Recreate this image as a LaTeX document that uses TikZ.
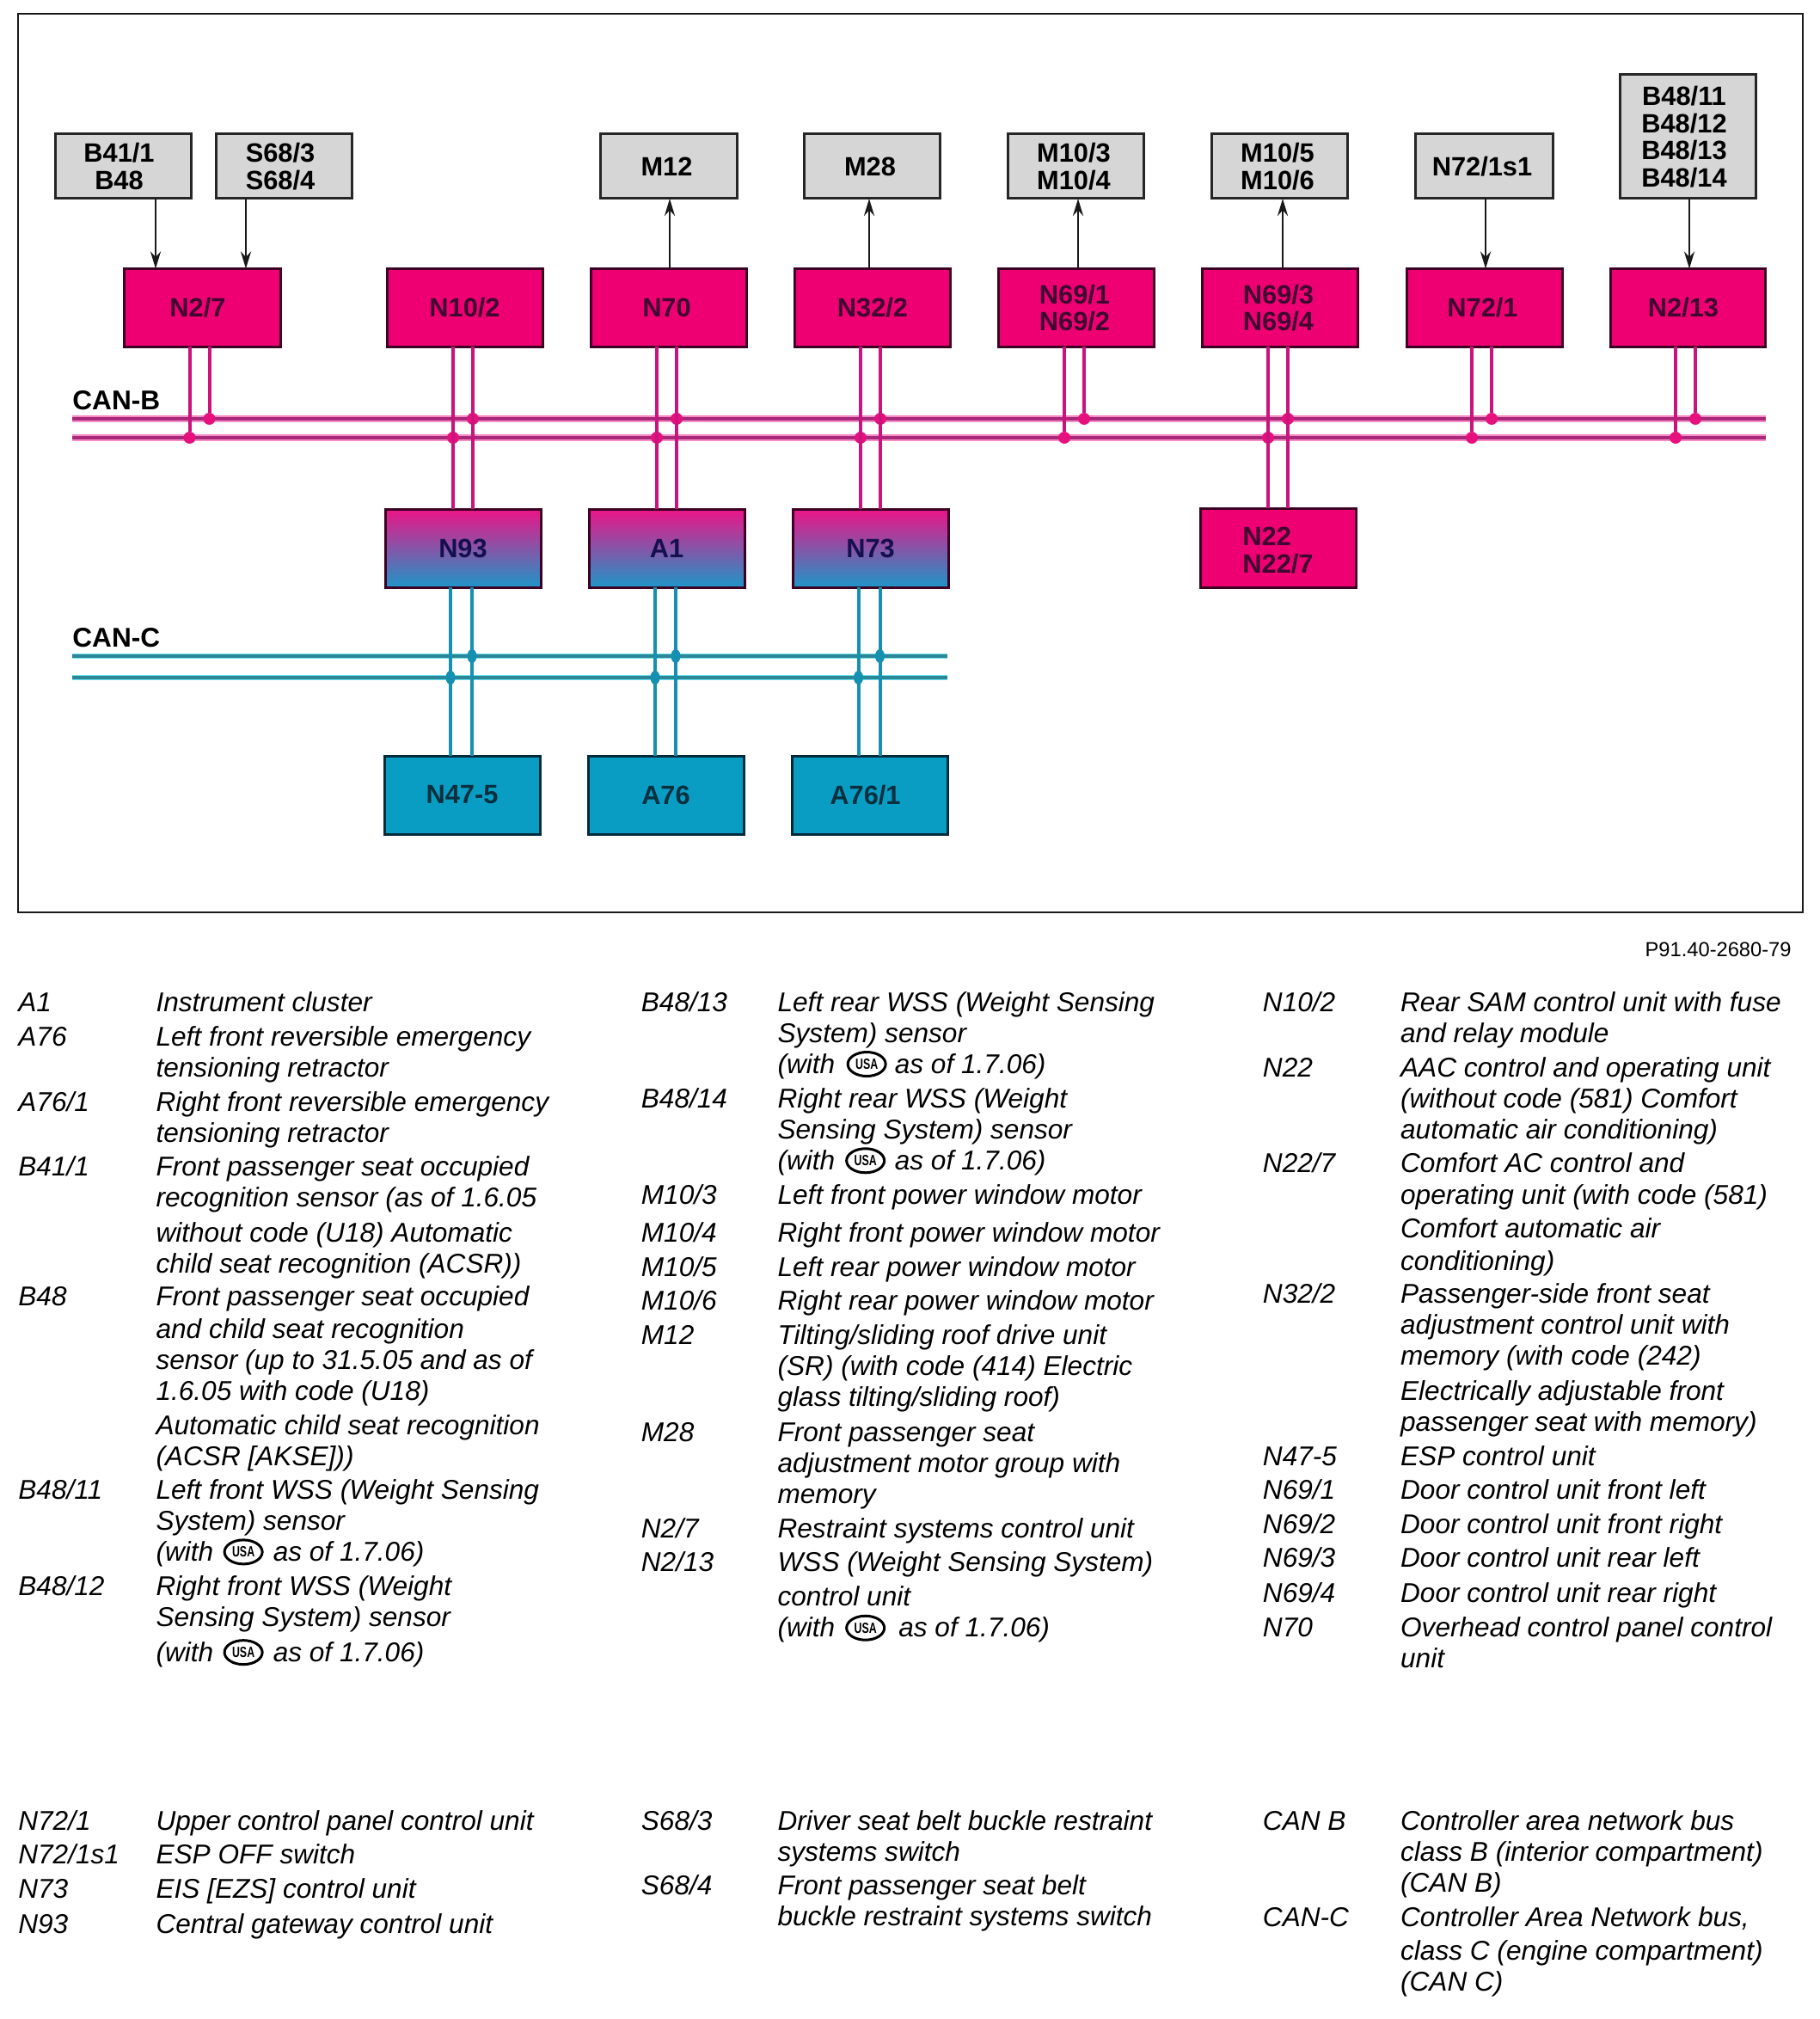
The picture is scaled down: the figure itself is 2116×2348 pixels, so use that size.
\documentclass[tikz,border=0pt]{standalone}
\usepackage{fontspec}
\usepackage{graphicx}
\setmainfont{Liberation Sans}
\usetikzlibrary{arrows.meta,shapes.geometric}
\definecolor{pinkfill}{HTML}{EE0073}
\definecolor{pinkdark}{HTML}{3C0022}
\definecolor{pinktext}{HTML}{3E0630}
\definecolor{pinkwire}{HTML}{C8147C}
\definecolor{pinkdot}{HTML}{E6107E}
\definecolor{pinkbus}{HTML}{A8287A}
\definecolor{pinkhalo}{HTML}{F88CC4}
\definecolor{tealfill}{HTML}{0A9DC4}
\definecolor{tealdark}{HTML}{002A3A}
\definecolor{tealtext}{HTML}{06303F}
\definecolor{tealwire}{HTML}{1590B0}
\definecolor{tealbus}{HTML}{2E8595}
\definecolor{tealhalo}{HTML}{66E4F4}
\definecolor{grayfill}{HTML}{D6D6D6}
\definecolor{gradtop}{HTML}{EC1487}
\definecolor{gradbot}{HTML}{1E96C8}
\definecolor{gradtext}{HTML}{150F4E}
\newcounter{lg}
\tikzset{
  x=.5pt,y=-.5pt,
  sz/.style 2 args={minimum width=#1*.5pt,minimum height=#2*.5pt},
  boxbase/.style={rectangle,anchor=north west,inner sep=0pt,outer sep=0pt,align=center,line width=1.5pt,
    font=\fontsize{15.4}{15.8}\selectfont\bfseries},
  graybox/.style={boxbase,draw=black!85,fill=grayfill,text=black},
  pinkbox/.style={boxbase,draw=pinkdark,fill=pinkfill,text=pinktext},
  gradbox/.style={boxbase,draw=pinkdark,top color=gradtop,bottom color=gradbot,text=gradtext},
  tealbox/.style={boxbase,draw=tealdark,fill=tealfill,text=tealtext},
  arr/.style={draw=black!90,line width=1.4pt,-{Stealth[length=10pt,width=6pt]}},
  pwire/.style={draw=pinkwire,line width=2pt},
  twire/.style={draw=tealwire,line width=2pt},
  pdot/.style={circle,fill=pinkdot,inner sep=0pt,minimum size=7pt},
  tdot/.style={ellipse,fill=tealwire,inner sep=0pt,minimum width=5.5pt,minimum height=8pt},
  buslabel/.style={anchor=base west,inner sep=0pt,font=\fontsize{15.8}{16}\selectfont\bfseries},
  legend/.style={anchor=base west,inner sep=0pt,font=\fontsize{15.8}{18}\selectfont\itshape},
  usabadge/.style={ellipse,draw=black,line width=1.5pt,inner sep=0pt,minimum width=22pt,minimum height=14pt,
    font=\fontsize{8.6}{9}\selectfont\bfseries},
}
\newcommand{\Ln}[3]{\stepcounter{lg}\node[legend] (lg\arabic{lg}) at (#1*1.497,#2*1.497+11.5) {#3};}
\newcommand{\Usa}[2]{\stepcounter{lg}\node[usabadge] (lg\arabic{lg}) at (#1*1.498,#2*1.497+1) {\scalebox{.72}[1]{USA}};}
\begin{document}
\begin{tikzpicture}
\useasboundingbox (0,0) rectangle (2116,2348);
\node[rectangle,draw=black!90,line width=1pt,anchor=north west,inner sep=0pt,sz={2076}{1044}] (frame) at (20,15.5) {};

% grey boxes
\node[graybox,sz={158}{75}] (B41) at (64,156) {B41/1\kern4.5pt\\B48\kern4.5pt};
\node[graybox,sz={158}{75}] (S68) at (251,156) {S68/3\kern4pt\\S68/4\kern4pt};
\node[graybox,sz={159}{75}] (M12) at (698,156) {M12\kern2pt};
\node[graybox,sz={158}{75}] (M28) at (935,156) {M28\kern2pt};
\node[graybox,sz={158}{75}] (M103) at (1172,156) {M10/3\kern2pt\\M10/4\kern2pt};
\node[graybox,sz={158}{75}] (M105) at (1409,156) {M10/5\kern2pt\\M10/6\kern2pt};
\node[graybox,sz={160}{75}] (N72s) at (1646,156) {N72/1s1\kern2pt};
\node[graybox,sz={158}{144}] (B48) at (1884,87) {B48/11\kern4pt\\B48/12\kern4pt\\B48/13\kern4pt\\B48/14\kern4pt};

% pink boxes
\node[pinkbox,sz={182}{91}] (N27) at (144,312.5) {N2/7\kern5pt};
\node[pinkbox,sz={181}{91}] (N102) at (450,312.5) {N10/2};
\node[pinkbox,sz={181}{91}] (N70) at (687,312.5) {N70\kern2pt};
\node[pinkbox,sz={181}{91}] (N322) at (924.5,312.5) {N32/2};
\node[pinkbox,sz={181}{91}] (N691) at (1161.5,312.5) {N69/1\kern2pt\\N69/2\kern2pt};
\node[pinkbox,sz={181}{91}] (N693) at (1398.5,312.5) {N69/3\kern2pt\\N69/4\kern2pt};
\node[pinkbox,sz={181}{91}] (N721) at (1636,312.5) {N72/1\kern2pt};
\node[pinkbox,sz={180}{91}] (N213) at (1873,312.5) {N2/13\kern5pt};

% middle boxes
\node[gradbox,sz={181}{91}] (N93) at (448,592) {N93};
\node[gradbox,sz={181}{91}] (A1) at (685,592) {A1};
\node[gradbox,sz={181}{91}] (N73) at (922,592) {N73};
\node[pinkbox,sz={181}{92},align=left] (N22) at (1396,591) {\rule{0pt}{14pt}N22\\N22/7};

% lower boxes
\node[tealbox,sz={181}{91}] (N475) at (447,879) {N47-5};
\node[tealbox,sz={181}{91}] (A76) at (684,879) {A76};
\node[tealbox,sz={181}{91}] (A761) at (921,879) {A76/1\kern5pt};

% bus labels
\node[buslabel] (canb) at (84,477) {CAN-B};
\node[buslabel] (canc) at (84,752) {CAN-C};

% bus ends
\coordinate (busBw) at (84,0); \coordinate (busBe) at (2054,0);
\coordinate (busCw) at (84,0); \coordinate (busCe) at (1102,0);
\coordinate (yB1) at (0,487); \coordinate (yB2) at (0,509);
\coordinate (yC1) at (0,763); \coordinate (yC2) at (0,788);
\foreach \yy in {yB1,yB2}{
  \draw[pinkhalo,line width=3.6pt] (busBw |- \yy) -- (busBe |- \yy);
  \draw[pinkbus,line width=2pt] (busBw |- \yy) -- (busBe |- \yy);
}
\foreach \yy in {yC1,yC2}{
  \draw[tealhalo,line width=3.4pt] (busCw |- \yy) -- (busCe |- \yy);
  \draw[tealbus,line width=1.8pt] (busCw |- \yy) -- (busCe |- \yy);
}

% arrows
\coordinate (a1) at (181,0); \coordinate (a2) at (286,0);
\coordinate (a3) at (779,0); \coordinate (a4) at (1011,0);
\coordinate (a5) at (1254,0); \coordinate (a6) at (1492,0);
\coordinate (a7) at (1728,0); \coordinate (a8) at (1965,0);
\draw[arr] (a1 |- B41.south) -- (a1 |- N27.north);
\draw[arr] (a2 |- S68.south) -- (a2 |- N27.north);
\draw[arr] (a3 |- N70.north) -- (a3 |- M12.south);
\draw[arr] (a4 |- N322.north) -- (a4 |- M28.south);
\draw[arr] (a5 |- N691.north) -- (a5 |- M103.south);
\draw[arr] (a6 |- N693.north) -- (a6 |- M105.south);
\draw[arr] (a7 |- N72s.south) -- (a7 |- N721.north);
\draw[arr] (a8 |- B48.south) -- (a8 |- N213.north);

% CAN-B stubs ending at the bus
\foreach \t/\xa/\xb in {N27/220.5/243.5,N691/1238/1261,N721/1712/1735,N213/1949/1972}{
  \node[pdot] (L\t) at (\xa,509) {};
  \node[pdot] (R\t) at (\xb,487) {};
  \draw[pwire] (L\t |- \t.south) -- (L\t);
  \draw[pwire] (R\t |- \t.south) -- (R\t);
}
% CAN-B links passing on to a lower box
\foreach \t/\b/\xa/\xb in {N102/N93/527/550,N70/A1/764/787,N322/N73/1001/1024,N693/N22/1475/1498}{
  \node[pdot] (L\t) at (\xa,509) {};
  \node[pdot] (R\t) at (\xb,487) {};
  \draw[pwire] (L\t |- \t.south) -- (L\t |- \b.north);
  \draw[pwire] (R\t |- \t.south) -- (R\t |- \b.north);
}
% CAN-C links
\foreach \t/\b/\xa/\xb in {N93/N475/524/549,A1/A76/762/786,N73/A761/998.5/1023.5}{
  \node[tdot] (L\t) at (\xa,788) {};
  \node[tdot] (R\t) at (\xb,763) {};
  \draw[twire] (L\t |- \t.south) -- (L\t |- \b.north);
  \draw[twire] (R\t |- \t.south) -- (R\t |- \b.north);
}

% figure number
\node[anchor=base east,inner sep=0pt,font=\fontsize{11.85}{14}\selectfont] (fignum) at (2084,1112) {P91.40-2680-79};

% legend column 1
\Ln{14}{778}{A1}\Ln{121}{778}{Instrument cluster}
\Ln{14}{805}{A76}\Ln{121}{805}{Left front reversible emergency}
\Ln{121}{829}{tensioning retractor}
\Ln{14}{856}{A76/1}\Ln{121}{856}{Right front reversible emergency}
\Ln{121}{880}{tensioning retractor}
\Ln{14}{906}{B41/1}\Ln{121}{906}{Front passenger seat occupied}
\Ln{121}{930}{recognition sensor (as of 1.6.05}
\Ln{121}{957}{without code (U18) Automatic}
\Ln{121}{981}{child seat recognition (ACSR))}
\Ln{14}{1007}{B48}\Ln{121}{1007}{Front passenger seat occupied}
\Ln{121}{1032}{and child seat recognition}
\Ln{121}{1056}{sensor (up to 31.5.05 and as of}
\Ln{121}{1080}{1.6.05 with code (U18)}
\Ln{121}{1107}{Automatic child seat recognition}
\Ln{121}{1131}{(ACSR [AKSE]))}
\Ln{14}{1157}{B48/11}\Ln{121}{1157}{Left front WSS (Weight Sensing}
\Ln{121}{1181}{System) sensor}
\Ln{121}{1205}{(with}\Usa{189}{1205}\Ln{212}{1205}{as of 1.7.06)}
\Ln{14}{1232}{B48/12}\Ln{121}{1232}{Right front WSS (Weight}
\Ln{121}{1256}{Sensing System) sensor}
\Ln{121}{1283}{(with}\Usa{189}{1283}\Ln{212}{1283}{as of 1.7.06)}

% legend column 2
\Ln{498}{778}{B48/13}\Ln{604}{778}{Left rear WSS (Weight Sensing}
\Ln{604}{802}{System) sensor}
\Ln{604}{826}{(with}\Usa{673}{826}\Ln{695}{826}{as of 1.7.06)}
\Ln{498}{853}{B48/14}\Ln{604}{853}{Right rear WSS (Weight}
\Ln{604}{877}{Sensing System) sensor}
\Ln{604}{901}{(with}\Usa{672}{901}\Ln{695}{901}{as of 1.7.06)}
\Ln{498}{928}{M10/3}\Ln{604}{928}{Left front power window motor}
\Ln{498}{957}{M10/4}\Ln{604}{957}{Right front power window motor}
\Ln{498}{984}{M10/5}\Ln{604}{984}{Left rear power window motor}
\Ln{498}{1010}{M10/6}\Ln{604}{1010}{Right rear power window motor}
\Ln{498}{1037}{M12}\Ln{604}{1037}{Tilting/sliding roof drive unit}
\Ln{604}{1061}{(SR) (with code (414) Electric}
\Ln{604}{1085}{glass tilting/sliding roof)}
\Ln{498}{1112}{M28}\Ln{604}{1112}{Front passenger seat}
\Ln{604}{1136}{adjustment motor group with}
\Ln{604}{1160}{memory}
\Ln{498}{1187}{N2/7}\Ln{604}{1187}{Restraint systems control unit}
\Ln{498}{1213}{N2/13}\Ln{604}{1213}{WSS (Weight Sensing System)}
\Ln{604}{1240}{control unit}
\Ln{604}{1264}{(with}\Usa{672}{1264}\Ln{698}{1264}{as of 1.7.06)}

% legend column 3
\Ln{981}{778}{N10/2}\Ln{1088}{778}{Rear SAM control unit with fuse}
\Ln{1088}{802}{and relay module}
\Ln{981}{829}{N22}\Ln{1088}{829}{AAC control and operating unit}
\Ln{1088}{853}{(without code (581) Comfort}
\Ln{1088}{877}{automatic air conditioning)}
\Ln{981}{903}{N22/7}\Ln{1088}{903}{Comfort AC control and}
\Ln{1088}{928}{operating unit (with code (581)}
\Ln{1088}{954}{Comfort automatic air}
\Ln{1088}{979}{conditioning)}
\Ln{981}{1005}{N32/2}\Ln{1088}{1005}{Passenger-side front seat}
\Ln{1088}{1029}{adjustment control unit with}
\Ln{1088}{1053}{memory (with code (242)}
\Ln{1088}{1080}{Electrically adjustable front}
\Ln{1088}{1104}{passenger seat with memory)}
\Ln{981}{1131}{N47-5}\Ln{1088}{1131}{ESP control unit}
\Ln{981}{1157}{N69/1}\Ln{1088}{1157}{Door control unit front left}
\Ln{981}{1184}{N69/2}\Ln{1088}{1184}{Door control unit front right}
\Ln{981}{1210}{N69/3}\Ln{1088}{1210}{Door control unit rear left}
\Ln{981}{1237}{N69/4}\Ln{1088}{1237}{Door control unit rear right}
\Ln{981}{1264}{N70}\Ln{1088}{1264}{Overhead control panel control}
\Ln{1088}{1288}{unit}

% lower legend
\Ln{14}{1414}{N72/1}\Ln{121}{1414}{Upper control panel control unit}
\Ln{14}{1440}{N72/1s1}\Ln{121}{1440}{ESP OFF switch}
\Ln{14}{1467}{N73}\Ln{121}{1467}{EIS [EZS] control unit}
\Ln{14}{1494}{N93}\Ln{121}{1494}{Central gateway control unit}
\Ln{498}{1414}{S68/3}\Ln{604}{1414}{Driver seat belt buckle restraint}
\Ln{604}{1438}{systems switch}
\Ln{498}{1464}{S68/4}\Ln{604}{1464}{Front passenger seat belt}
\Ln{604}{1488}{buckle restraint systems switch}
\Ln{981}{1414}{CAN B}\Ln{1088}{1414}{Controller area network bus}
\Ln{1088}{1438}{class B (interior compartment)}
\Ln{1088}{1462}{(CAN B)}
\Ln{981}{1489}{CAN-C}\Ln{1088}{1489}{Controller Area Network bus,}
\Ln{1088}{1515}{class C (engine compartment)}
\Ln{1088}{1539}{(CAN C)}
\end{tikzpicture}
\end{document}
